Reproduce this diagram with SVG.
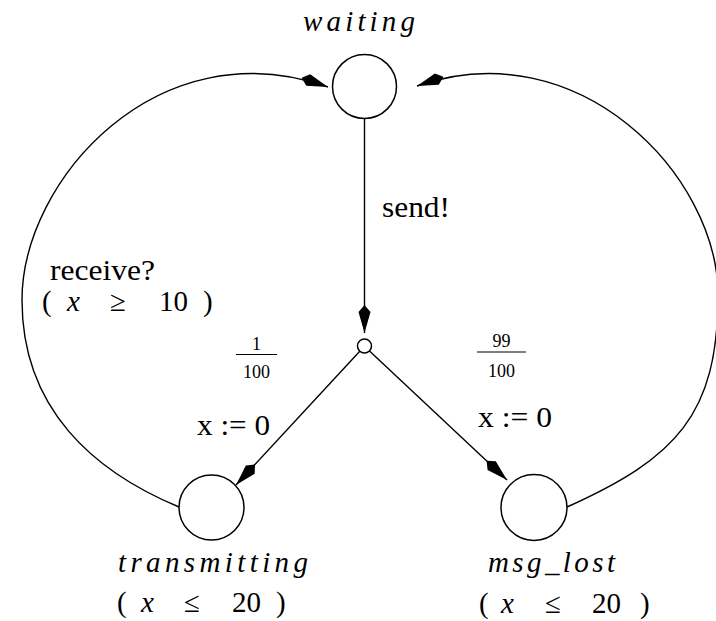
<svg xmlns="http://www.w3.org/2000/svg" width="716" height="621" viewBox="0 0 716 621">
<style>
text{font-family:'Liberation Serif','Times New Roman',serif;fill:#000}
.st{fill:#fff;stroke:#000;stroke-width:1.5}
.ed{fill:none;stroke:#000;stroke-width:1.4}
.lb{font-size:29px}
.mi{font-style:italic;font-size:29px}
.mr{font-size:29px}
.fr{font-size:18px;text-anchor:middle}
.bar{stroke:#000;stroke-width:1.2}
</style>
<defs>
<marker id="kite" viewBox="0 0 28 14" refX="28" refY="7" markerWidth="28" markerHeight="14" markerUnits="userSpaceOnUse" orient="auto">
<path d="M0,7 L7,1 L28,7 L7,13 Z" fill="#000"/>
</marker>
</defs>
<g id="edges">
<path class="ed" d="M364.5,118.5 L364.5,333" marker-end="url(#kite)"/>
<path class="ed" d="M360,351 L236,485" marker-end="url(#kite)"/>
<path class="ed" d="M369.5,351 L507,480" marker-end="url(#kite)"/>
<path class="ed" d="M179,507 C95,472 22,410 22,300 C22,180 158,27 328,87" marker-end="url(#kite)"/>
<path class="ed" d="M567,507 C676,458 718,415 718,295 C718,175 578,30 417,86" marker-end="url(#kite)"/>
<text class="lb" x="382" y="217" textLength="68" lengthAdjust="spacingAndGlyphs">send!</text>
<text class="lb" x="50" y="280" textLength="105" lengthAdjust="spacingAndGlyphs">receive?</text>
<text y="311"><tspan class="mr" x="42">(</tspan><tspan class="mi" x="67">x</tspan><tspan class="mr" x="110" font-size="32">≥</tspan><tspan class="mr" x="159">10</tspan><tspan class="mr" x="203">)</tspan></text>
<text class="lb" x="197" y="435" textLength="73" lengthAdjust="spacingAndGlyphs">x := 0</text>
<text class="lb" x="478" y="427" textLength="74" lengthAdjust="spacingAndGlyphs">x := 0</text>
<text class="fr" x="256.5" y="350">1</text>
<line class="bar" x1="236" y1="354.5" x2="277" y2="354.5"/>
<text class="fr" x="256.5" y="378">100</text>
<text class="fr" x="501.5" y="347">99</text>
<line class="bar" x1="477" y1="352" x2="526" y2="352"/>
<text class="fr" x="501.5" y="377">100</text>
</g>
<g id="waiting">
<circle class="st" cx="364.5" cy="86.5" r="32"/>
<text class="mi" x="303" y="31" textLength="112" lengthAdjust="spacing">waiting</text>
</g>
<g id="branch">
<circle class="st" cx="364.5" cy="346" r="7"/>
</g>
<g id="transmitting">
<circle class="st" cx="211.5" cy="507.5" r="32.5"/>
<text class="mi" x="118" y="572" textLength="190" lengthAdjust="spacing">transmitting</text>
<text y="612"><tspan class="mr" x="117">(</tspan><tspan class="mi" x="141">x</tspan><tspan class="mr" x="184" font-size="32">≤</tspan><tspan class="mr" x="232">20</tspan><tspan class="mr" x="276">)</tspan></text>
</g>
<g id="msg_lost">
<circle class="st" cx="534" cy="507.5" r="33"/>
<text class="mi" x="488" y="572" textLength="127" lengthAdjust="spacing">msg_lost</text>
<text y="613"><tspan class="mr" x="479">(</tspan><tspan class="mi" x="501">x</tspan><tspan class="mr" x="545" font-size="32">≤</tspan><tspan class="mr" x="592">20</tspan><tspan class="mr" x="640">)</tspan></text>
</g>
</svg>
